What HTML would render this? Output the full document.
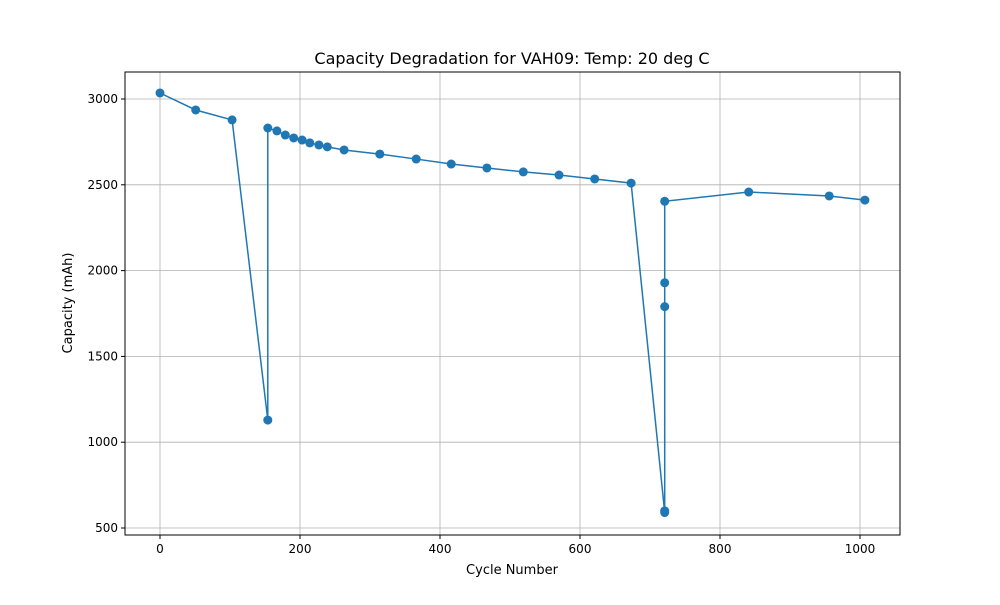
<!DOCTYPE html>
<html><head><meta charset="utf-8"><style>
body{margin:0;background:#fff;font-family:"Liberation Sans",sans-serif}
svg text{font-family:"DejaVu Sans","Liberation Sans",sans-serif}
</style></head><body>
<svg id="c" width="1000" height="600">
<rect width="1000" height="600" fill="#fff"/>
<g id="grid"></g><g id="axes"></g><g id="series"></g>
<text x="512" y="64" font-size="16" text-anchor="middle">Capacity Degradation for VAH09: Temp: 20 deg C</text>
<text x="512" y="574" font-size="13" text-anchor="middle">Cycle Number</text>
<text transform="translate(72,303) rotate(-90)" font-size="13" text-anchor="middle">Capacity (mAh)</text>
</svg>
<script>
const cycles=[0,51,103,154,154,167,179,191,203,214,227,239,263,314,366,416,467,519,570,621,673,721,721,721,721,721,841,956,1007];
const capacity=[3035,2936,2878,1129,2831,2814,2790,2773,2761,2744,2732,2721,2703,2679,2650,2621,2598,2575,2557,2534,2510,590,600,1790,1929,2404,2458,2435,2411];
const xTicks=[0,200,400,600,800,1000];
const yTicks=[500,1000,1500,2000,2500,3000];
const L=125,R=900,T=72,B=535;
const sx=v=>160+v*0.7;
const sy=v=>99+(3000-v)*0.1716;
const NS="http://www.w3.org/2000/svg";
function mk(t,a,p){const e=document.createElementNS(NS,t);for(const k in a)e.setAttribute(k,a[k]);p.appendChild(e);return e;}
const grid=document.getElementById('grid'),axes=document.getElementById('axes'),ser=document.getElementById('series');
xTicks.forEach(v=>{const x=sx(v);
const g=mk('line',{x1:x,x2:x,y1:T,y2:B,stroke:'#b0b0b0','stroke-width':0.8},grid);

mk('line',{x1:x,x2:x,y1:B,y2:B+4,stroke:'#000'},axes);
const t=mk('text',{x:x,y:B+18,'font-size':12,'text-anchor':'middle'},axes);t.textContent=v;
});
yTicks.forEach(v=>{const y=sy(v);
const g=mk('line',{x1:L,x2:R,y1:y,y2:y,stroke:'#b0b0b0','stroke-width':0.8},grid);

mk('line',{x1:L-4,x2:L,y1:y,y2:y,stroke:'#000'},axes);
const t=mk('text',{x:L-7,y:y+4,'font-size':12,'text-anchor':'end'},axes);t.textContent=v;
});
const fr=mk('rect',{x:L,y:T,width:R-L,height:B-T,fill:'none',stroke:'#000','stroke-width':1},axes);

const pts=cycles.map((c,i)=>sx(c)+','+sy(capacity[i])).join(' ');
const pl=mk('polyline',{points:pts,fill:'none',stroke:'#1f77b4','stroke-width':1.5},ser);

cycles.forEach((c,i)=>{const p=mk('circle',{cx:sx(c),cy:sy(capacity[i]),r:4.5,fill:'#1f77b4'},ser);
});
</script>
</body></html>
